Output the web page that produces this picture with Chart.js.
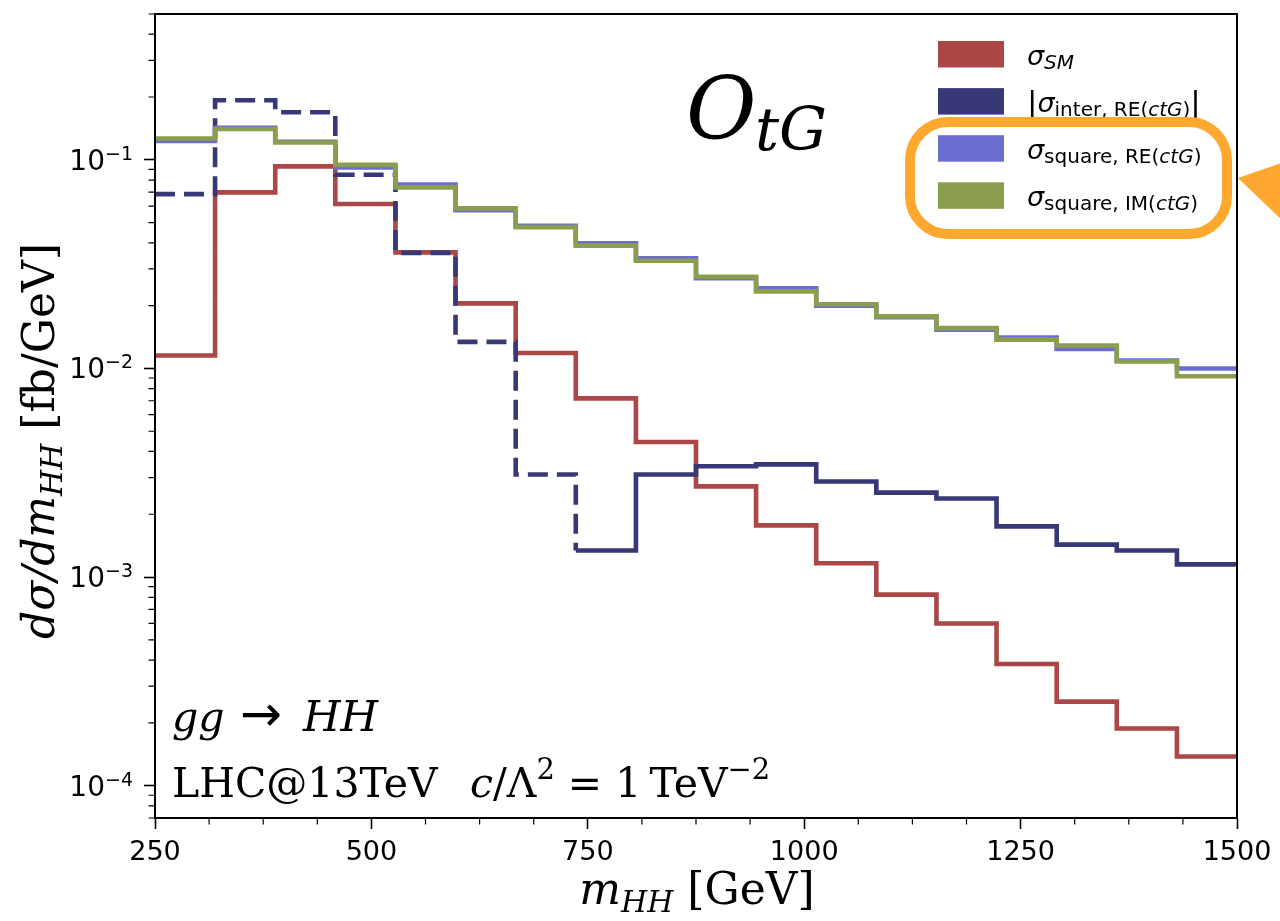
<!DOCTYPE html>
<html>
<head>
<meta charset="utf-8">
<script src="https://cdn.jsdelivr.net/npm/chart.js@4.4.1/dist/chart.umd.min.js"></script>
<style>
  html, body { margin: 0; padding: 0; background: #fff; }
  #wrap { width: 1280px; height: 921px; position: relative; }
</style>
</head>
<body>
<div id="wrap"><canvas id="c"></canvas></div>
<script>
// bin edges of the m_HH histogram (GeV), 18 bins
const binEdges = [250, 319.4, 388.9, 458.3, 527.8, 597.2, 666.7, 736.1, 805.6, 875,
                  944.4, 1013.9, 1083.3, 1152.8, 1222.2, 1291.7, 1361.1, 1430.6, 1500];

// dsigma/dm_HH per bin [fb/GeV]
const sigmaSM = [0.01153, 0.0698, 0.0930, 0.0614, 0.0360, 0.0205, 0.01185, 0.00719, 0.00444,
                 0.00272, 0.00177, 0.001164, 0.000824, 0.000599, 0.000383, 0.000253, 0.000188, 0.000138];
const sigmaInter = [0.0685, 0.193, 0.169, 0.0848, 0.0358, 0.0134, 0.00310, 0.00134, 0.00310,
                    0.00340, 0.00347, 0.00287, 0.00254, 0.00238, 0.00175, 0.00143, 0.00134, 0.00115];
const interDashedBins = 7; // negative interference bins are drawn dashed
const sigmaSqRE = [0.1233, 0.1425, 0.1220, 0.0920, 0.0762, 0.0573, 0.0483, 0.0398, 0.0337,
                   0.0271, 0.0242, 0.0200, 0.0176, 0.01535, 0.01406, 0.01241, 0.01091, 0.00999];
const sigmaSqIM = [0.1266, 0.1405, 0.1211, 0.0946, 0.0738, 0.0585, 0.0476, 0.0388, 0.0328,
                   0.0275, 0.0234, 0.0203, 0.01776, 0.01561, 0.01375, 0.01288, 0.01079, 0.00918];

const xTicks = [250, 500, 750, 1000, 1250, 1500];
const yDecades = [1e-4, 1e-3, 1e-2, 1e-1];

const colSM = '#ab4747';
const colInter = '#393877';
const colSqRE = '#6b6dcf';
const colSqIM = '#8b9e4e';
const colHighlight = '#fea82f';

const SANS = '"DejaVu Sans"';
const SERIF = '"DejaVu Serif"';

// histogram steps: each left edge carries its bin value, last edge repeats the last bin
function stepData(values) {
    return binEdges.map((x, i) => ({ x: x, y: values[Math.min(i, values.length - 1)] }));
}

function drawRuns(ctx, x, y, runs) {
    for (const r of runs) {
        ctx.font = r.f;
        ctx.fillText(r.t, x, y + (r.dy || 0));
        x += ctx.measureText(r.t).width;
    }
    return x;
}
function runsWidth(ctx, runs) {
    let w = 0;
    for (const r of runs) { ctx.font = r.f; w += ctx.measureText(r.t).width; }
    return w;
}

const decorations = {
    id: 'decorations',
    afterDatasetsDraw(chart) {
        const { ctx, chartArea: a, scales: { x, y } } = chart;
        ctx.save();
        // minor ticks
        ctx.strokeStyle = '#000';
        ctx.lineWidth = 1.2;
        ctx.beginPath();
        for (let n = -5; n <= -1; n++) {
            for (let k = 2; k <= 9; k++) {
                const v = k * Math.pow(10, n);
                if (v < y.min || v > y.max) continue;
                const py = y.getPixelForValue(v);
                ctx.moveTo(a.left - 6.5, py);
                ctx.lineTo(a.left, py);
            }
        }
        for (let v = 250; v <= 1500; v += 62.5) {
            if (v % 250 === 0) continue;
            const px = x.getPixelForValue(v);
            ctx.moveTo(px, a.bottom);
            ctx.lineTo(px, a.bottom + 6.5);
        }
        ctx.stroke();
        // axes frame
        ctx.lineWidth = 2;
        ctx.strokeRect(a.left, a.top, a.right - a.left, a.bottom - a.top);
        ctx.restore();
    },
    afterDraw(chart) {
        const { ctx, chartArea: a, scales: { y } } = chart;
        ctx.save();
        ctx.fillStyle = '#000';
        ctx.textBaseline = 'alphabetic';
        ctx.textAlign = 'left';

        // y tick labels 10^n with a raised exponent
        yDecades.forEach(v => {
            const py = y.getPixelForValue(v);
            const runs = [{ t: '10', f: '28px ' + SANS }, { t: '\u2212' + Math.abs(Math.round(Math.log10(v))), f: '19px ' + SANS, dy: -10 }];
            drawRuns(ctx, a.left - 22 - runsWidth(ctx, runs), py + 10, runs);
        });

        // legend
        const mi = 'italic 27px ' + SANS;
        const sub = '20px ' + SANS;
        const subI = 'italic 20px ' + SANS;
        const bar = '31px ' + SANS;
        const entries = [
            { c: colSM, runs: [{ t: '\u03C3', f: mi }, { t: 'SM', f: subI, dy: 4 }] },
            { c: colInter, runs: [{ t: '|', f: bar, dy: 1 }, { t: '\u03C3', f: mi }, { t: 'inter, RE(', f: sub, dy: 4 },
                                  { t: 'ctG', f: subI, dy: 4 }, { t: ')', f: sub, dy: 4 }, { t: '|', f: bar, dy: 1 }] },
            { c: colSqRE, runs: [{ t: '\u03C3', f: mi }, { t: 'square, RE(', f: sub, dy: 4 },
                                 { t: 'ctG', f: subI, dy: 4 }, { t: ')', f: sub, dy: 4 }] },
            { c: colSqIM, runs: [{ t: '\u03C3', f: mi }, { t: 'square, IM(', f: sub, dy: 4 },
                                 { t: 'ctG', f: subI, dy: 4 }, { t: ')', f: sub, dy: 4 }] }
        ];
        entries.forEach((e, i) => {
            const top = 41 + i * 47.1;
            ctx.fillStyle = e.c;
            ctx.fillRect(938, top, 66, 26.5);
            ctx.fillStyle = '#000';
            drawRuns(ctx, 1027, top + 23.5, e.runs);
        });

        // highlight box and arrow
        ctx.strokeStyle = colHighlight;
        ctx.lineWidth = 10;
        ctx.beginPath();
        ctx.roundRect(910, 122, 317, 112, 38);
        ctx.stroke();
        ctx.fillStyle = colHighlight;
        ctx.beginPath();
        ctx.moveTo(1238, 178);
        ctx.lineTo(1284, 162);
        ctx.lineTo(1284, 222);
        ctx.closePath();
        ctx.fill();

        ctx.fillStyle = '#000';
        // operator label
        drawRuns(ctx, 686, 138, [{ t: 'O', f: 'italic 86px ' + SERIF }]);
        drawRuns(ctx, 755, 150, [{ t: 'tG', f: 'italic 60px ' + SERIF }]);

        // process text
        const big = '41px ' + SERIF;
        const bigI = 'italic 41px ' + SERIF;
        const sup = '29px ' + SERIF;
        drawRuns(ctx, 172, 731, [{ t: 'gg', f: bigI }]);
        drawRuns(ctx, 240, 731, [{ t: '\u2192', f: '50px ' + SANS }]);
        drawRuns(ctx, 303, 731, [{ t: 'HH', f: 'italic 43px ' + SERIF }]);
        drawRuns(ctx, 172, 797, [{ t: 'LHC@13TeV', f: big }]);
        drawRuns(ctx, 470, 797, [
            { t: 'c', f: bigI }, { t: '/\u039B', f: big },
            { t: '2', f: sup, dy: -18 }, { t: ' = 1\u2009TeV', f: big }, { t: '\u22122', f: sup, dy: -18 }
        ]);

        // x axis title
        const xRuns = [{ t: 'm', f: 'italic 44px ' + SERIF }, { t: 'HH', f: 'italic 30px ' + SERIF, dy: 8 }, { t: ' [GeV]', f: '44px ' + SERIF }];
        drawRuns(ctx, 697 - runsWidth(ctx, xRuns) / 2, 904, xRuns);

        // y axis title (rotated)
        const yRuns = [{ t: 'd\u03C3/dm', f: 'italic 44px ' + SERIF }, { t: 'HH', f: 'italic 30px ' + SERIF, dy: 8 }, { t: ' [fb/GeV]', f: '44px ' + SERIF }];
        ctx.translate(54, 441);
        ctx.rotate(-Math.PI / 2);
        drawRuns(ctx, -runsWidth(ctx, yRuns) / 2, 0, yRuns);
        ctx.restore();
    }
};

function createChart() {
    const ctx = document.getElementById('c').getContext('2d');
    const tickFont = { family: 'DejaVu Sans', size: 27 };
    new Chart(ctx, {
        type: 'line',
        data: {
            datasets: [
                { label: 'sigma_SM', data: stepData(sigmaSM), borderColor: colSM, order: 4 },
                { label: '|sigma_inter, RE(ctG)|', data: stepData(sigmaInter), borderColor: colInter, order: 3,
                  segment: { borderDash: c => c.p0DataIndex < interDashedBins ? [20, 9] : undefined } },
                { label: 'sigma_square, RE(ctG)', data: stepData(sigmaSqRE), borderColor: colSqRE, order: 2 },
                { label: 'sigma_square, IM(ctG)', data: stepData(sigmaSqIM), borderColor: colSqIM, order: 1 }
            ]
        },
        options: {
            responsive: true,
            maintainAspectRatio: false,
            animation: false,
            devicePixelRatio: 1,
            layout: { padding: { top: 14, right: 43, left: 0, bottom: 0 } },
            elements: {
                point: { radius: 0 },
                line: { borderWidth: 4.6, stepped: true, fill: false, borderCapStyle: 'butt', borderJoinStyle: 'miter' }
            },
            plugins: { legend: { display: false }, tooltip: { enabled: false } },
            scales: {
                x: {
                    type: 'linear', min: 250, max: 1500,
                    afterFit: s => { s.height = 103; s.paddingLeft = 0; s.paddingRight = 0; },
                    afterBuildTicks: s => { s.ticks = xTicks.map(v => ({ value: v })); },
                    ticks: { font: tickFont, color: '#000', padding: 8, maxRotation: 0, autoSkip: false,
                             callback: v => String(v) },
                    grid: { drawOnChartArea: false, drawTicks: true, tickLength: 11, tickWidth: 1.6, tickColor: '#000' },
                    border: { display: true, color: '#000', width: 2 }
                },
                y: {
                    type: 'logarithmic', min: 7e-5, max: 0.5,
                    afterFit: s => { s.width = 155; s.paddingTop = 0; s.paddingBottom = 0; },
                    afterBuildTicks: s => { s.ticks = yDecades.map(v => ({ value: v })); },
                    // labels with raised exponents are drawn by the decorations plugin
                    ticks: { color: '#000', padding: 9, autoSkip: false, callback: () => '' },
                    grid: { drawOnChartArea: false, drawTicks: true, tickLength: 11, tickWidth: 1.6, tickColor: '#000' },
                    border: { display: true, color: '#000', width: 2 }
                }
            }
        },
        plugins: [decorations]
    });
}

window.onload = function () {
    createChart();
};
</script>
</body>
</html>
